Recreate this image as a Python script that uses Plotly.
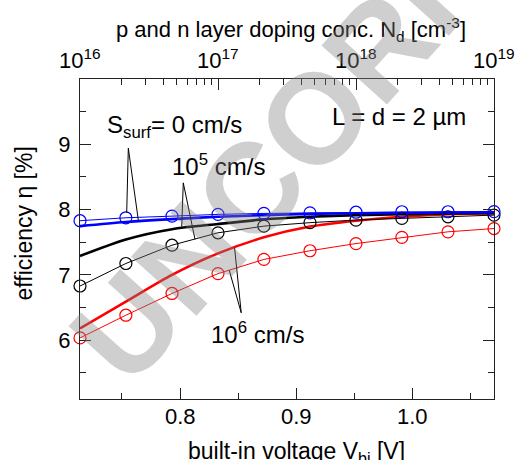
import plotly.graph_objects as go

# p and n layer doping concentration N_d (cm^-3), three simulation points per decade
n_dop = [1e16, 2.15e16, 4.64e16, 1e17, 2.15e17, 4.64e17, 1e18, 2.15e18, 4.64e18, 1e19]

# efficiency (%) - curves drawn with open circles
eff_s0_pts = [7.83, 7.875, 7.90, 7.927, 7.942, 7.95, 7.96, 7.967, 7.967, 7.97]
eff_s5_pts = [6.83, 7.175, 7.455, 7.645, 7.747, 7.80, 7.84, 7.865, 7.89, 7.916]
eff_s6_pts = [6.035, 6.383, 6.716, 7.02, 7.237, 7.37, 7.48, 7.575, 7.66, 7.71]

# efficiency (%) - thick curves without symbols
eff_s0_line = [7.747, 7.81, 7.855, 7.89, 7.915, 7.935, 7.945, 7.95, 7.955, 7.96]
eff_s5_line = [7.29, 7.543, 7.70, 7.78, 7.85, 7.89, 7.915, 7.93, 7.94, 7.95]
eff_s6_line = [6.18, 6.59, 7.0, 7.33, 7.575, 7.74, 7.83, 7.89, 7.93, 7.94]

# axis ranges / ticks
vbi_range = [0.7139, 1.0703]      # built-in voltage (V), bottom axis
vbi_ticks = [0.8, 0.9, 1.0]
logn_range = [16, 19]             # log10 N_d, top axis
logn_decades = [16, 17, 18, 19]
eff_range = [5.1, 10]
eff_ticks = [6, 7, 8, 9]
eff_minor = [5.5, 6.5, 7.5, 8.5, 9.5]

FONT = "Liberation Sans, Arial, sans-serif"
AX = "#222222"
BLUE, BLACK, RED = "#0000ff", "#000000", "#ff0000"

fig = go.Figure()

for y, c in [(eff_s6_line, RED), (eff_s5_line, BLACK), (eff_s0_line, BLUE)]:
    fig.add_trace(go.Scatter(x=n_dop, y=y, xaxis="x2", yaxis="y", mode="lines",
                             line=dict(color=c, width=2.6, shape="spline", smoothing=0.8),
                             hoverinfo="skip"))

for y, c in [(eff_s6_pts, RED), (eff_s5_pts, BLACK), (eff_s0_pts, BLUE)]:
    fig.add_trace(go.Scatter(x=n_dop, y=y, xaxis="x2", yaxis="y", mode="lines+markers",
                             line=dict(color=c, width=1),
                             marker=dict(symbol="circle-open", size=12, color=c,
                                         line=dict(width=1.2, color=c)),
                             cliponaxis=False, hoverinfo="skip"))

tick_common = dict(showgrid=False, zeroline=False, showline=True, linecolor=AX,
                   linewidth=1.3, ticks="inside", ticklen=11, tickwidth=1.2, tickcolor=AX,
                   tickfont=dict(family=FONT, size=22, color="black"))

fig.update_layout(
    width=515, height=460,
    autosize=False,
    margin=dict(l=80, r=21, t=79, b=61, autoexpand=False),
    plot_bgcolor="white", paper_bgcolor="white",
    showlegend=False,
    font=dict(family=FONT, size=22, color="black"),
    xaxis=dict(range=vbi_range, tickmode="array", tickvals=vbi_ticks, showticklabels=False,
               minor=dict(tick0=0, dtick=0.05, ticks="inside", ticklen=6,
                          tickwidth=1.2, tickcolor=AX, showgrid=False),
               **tick_common),
    xaxis2=dict(type="log", range=logn_range, overlaying="x", side="top", anchor="y",
                dtick=1, showticklabels=False,
                minor=dict(dtick="D1", ticks="inside", ticklen=6, tickwidth=1.2,
                           tickcolor=AX, showgrid=False),
                **tick_common),
    yaxis=dict(range=eff_range, tickmode="array", tickvals=eff_ticks, mirror="ticks",
               minor=dict(tickmode="array", tickvals=eff_minor, ticks="inside", ticklen=6,
                          tickwidth=1.2, tickcolor=AX, showgrid=False),
               ticklabelstandoff=4, **tick_common),
)

tickfont = dict(family=FONT, size=22, color="black")

# built-in voltage tick labels
for v in vbi_ticks:
    fig.add_annotation(x=v, y=-0.054, xref="x", yref="paper", xanchor="center",
                       yanchor="middle", showarrow=False, text=f"{v:.1f}", font=tickfont)

# decade labels of the doping axis (log axis: positions in log10 units)
for d in logn_decades:
    fig.add_annotation(x=d, y=1.012, xref="x2", yref="paper", xanchor="center",
                       yanchor="bottom", showarrow=False, text=f"10<sup>{d}</sup>",
                       font=tickfont)

# leader lines from the labels to the curves (V, %)
leaders = [
    ((0.7555, 8.94), (0.7541, 7.95)), ((0.7555, 8.94), (0.7641, 7.84)),
    ((0.8028, 8.41), (0.8015, 7.74)), ((0.8028, 8.41), (0.8129, 7.545)),
    ((0.8527, 6.42), (0.8470, 7.41)), ((0.8527, 6.42), (0.8424, 7.07)),
]
for (x0, y0), (x1, y1) in leaders:
    fig.add_shape(type="line", xref="x", yref="y", x0=x0, y0=y0, x1=x1, y1=y1,
                  line=dict(color="black", width=1))

lab = dict(family=FONT, size=24, color="black")
fig.add_annotation(x=0.7354, y=9.27, xref="x", yref="y", xanchor="left", yanchor="middle",
                   text="S<sub>surf</sub>= 0 cm/s", showarrow=False, font=lab)
fig.add_annotation(x=0.7914, y=8.68, xref="x", yref="y", xanchor="left", yanchor="middle",
                   text="10<sup>5</sup> cm/s", showarrow=False, font=lab)
fig.add_annotation(x=0.929, y=9.43, xref="x", yref="y", xanchor="left", yanchor="middle",
                   text="L = d = 2 µm", showarrow=False, font=lab)
fig.add_annotation(x=0.8252, y=6.11, xref="x", yref="y", xanchor="left", yanchor="middle",
                   text="10<sup>6</sup> cm/s", showarrow=False, font=lab)

# axis titles
fig.add_annotation(x=0.5085, y=1.156, xref="paper", yref="paper", xanchor="center",
                   yanchor="middle", showarrow=False,
                   text="p and n layer doping conc. N<sub>d</sub> [cm<sup>-3</sup>]",
                   font=dict(family=FONT, size=22, color="black"))
fig.add_annotation(x=0.5234, y=-0.166, xref="paper", yref="paper", xanchor="center",
                   yanchor="middle", showarrow=False,
                   text="built-in voltage V<sub>bi</sub> [V]",
                   font=dict(family=FONT, size=23, color="black"))
fig.add_annotation(x=-0.135, y=0.549, xref="paper", yref="paper", xanchor="center",
                   yanchor="middle", showarrow=False, textangle=-90,
                   text="efficiency η [%]",
                   font=dict(family=FONT, size=23, color="black"))

# proof watermark
fig.add_annotation(x=1.24, y=1.845, xref="paper", yref="paper", xanchor="center",
                   yanchor="middle", showarrow=False, textangle=-48,
                   text="<b>UNCORRECTED PROOF</b>",
                   font=dict(family=FONT, size=128, color="rgba(130,130,130,0.38)"))

fig.write_html("out.html")
